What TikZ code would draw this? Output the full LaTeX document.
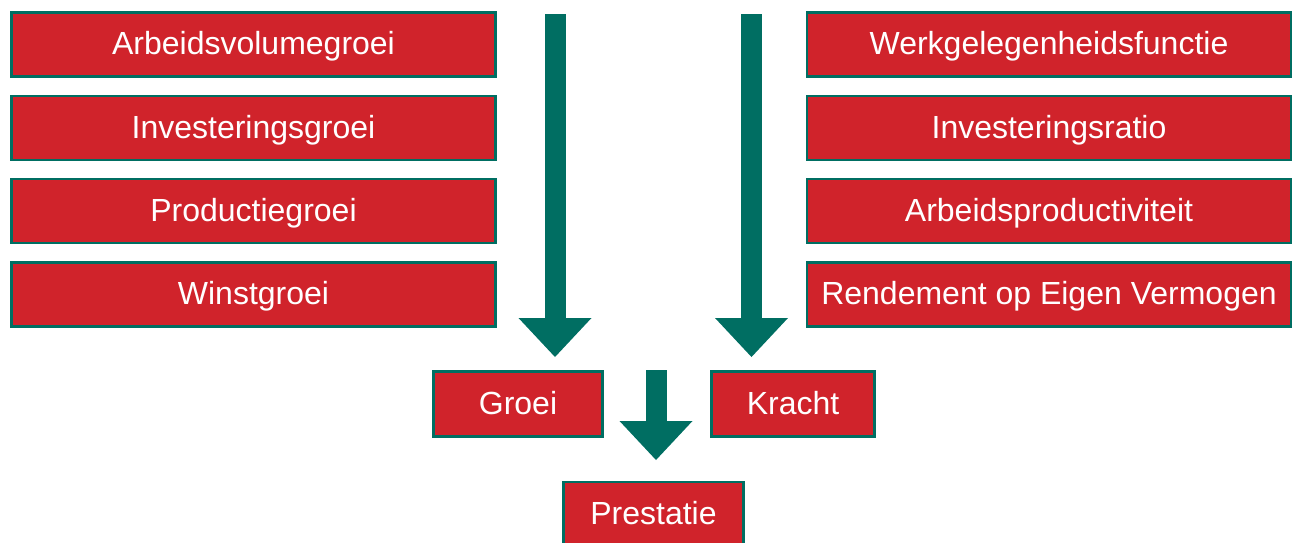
\documentclass[tikz,border=0pt]{standalone}
\usepackage{fontspec}
\setmainfont{Liberation Sans}
\usetikzlibrary{arrows.meta}
\definecolor{boxred}{HTML}{D0232B}
\definecolor{tealc}{HTML}{006E62}
\tikzset{
  rbox/.style={rectangle, draw=tealc, fill=boxred, line width=2.5pt, text=white,
    font=\fontsize{32}{34}\selectfont, inner sep=0pt, text height=20.5pt, text depth=0pt,
    minimum height=64pt},
  wide/.style={minimum width=484pt},
  bigarrow/.style={draw=tealc, line width=21pt,
    -{Triangle[width=73pt, length=39pt, line width=0pt, color=tealc]}}
}
\begin{document}
\begin{tikzpicture}[x=1pt, y=-1pt]
\useasboundingbox (0,0) rectangle (1293,542);
\node[rbox, wide] (a1) at (253.5,44.5) {Arbeidsvolumegroei};
\node[rbox, wide] (a2) at (253.5,128) {Investeringsgroei};
\node[rbox, wide] (a3) at (253.5,211) {Productiegroei};
\node[rbox, wide] (a4) at (253.5,294.5) {Winstgroei};
\node[rbox, wide] (b1) at (1049,44.5) {Werkgelegenheidsfunctie};
\node[rbox, wide] (b2) at (1049,128) {Investeringsratio};
\node[rbox, wide] (b3) at (1049,211) {Arbeidsproductiviteit};
\node[rbox, wide] (b4) at (1049,294.5) {Rendement op Eigen Vermogen};
\node[rbox, minimum width=169pt, minimum height=65pt] (g) at (518,404) {Groei};
\node[rbox, minimum width=163pt, minimum height=65pt] (k) at (793,404) {Kracht};
\node[rbox, minimum width=180pt, minimum height=64pt] (p) at (653.5,514) {Prestatie};
\coordinate (lt) at (555,14);
\coordinate (lb) at (555,357);
\coordinate (rt) at (751.5,14);
\coordinate (rb) at (751.5,357);
\coordinate (mt) at (656,370);
\coordinate (mb) at (656,460);
\draw[bigarrow] (lt) -- (lb);
\draw[bigarrow] (rt) -- (rb);
\draw[bigarrow] (mt) -- (mb);
\end{tikzpicture}
\end{document}
